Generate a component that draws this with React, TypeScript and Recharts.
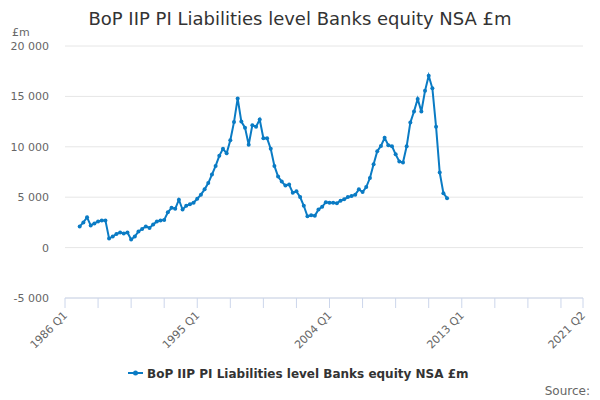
import React from 'react';
import { LineChart, Line, XAxis, YAxis, CartesianGrid } from 'recharts';

const TITLE = 'BoP IIP PI Liabilities level Banks equity NSA £m';
const SERIES_NAME = 'BoP IIP PI Liabilities level Banks equity NSA £m';
const UNIT = '£m';
const SOURCE = 'Source:';
const COLOR = '#0a7bc4';
const FONT = '"DejaVu Sans", Verdana, sans-serif';

// Category axis: 1986 Q1 .. 2021 Q2
const FIRST_YEAR = 1986;
const LAST_LABEL = '2021 Q2';
const quarters: string[] = [];
for (let y = FIRST_YEAR; quarters[quarters.length - 1] !== LAST_LABEL; y++) {
  for (let q = 1; q <= 4 && quarters[quarters.length - 1] !== LAST_LABEL; q++) {
    quarters.push(`${y} Q${q}`);
  }
}

// Series values, 1987 Q1 .. 2012 Q1
const FIRST_DATA_QUARTER = '1987 Q1';
const values: number[] = [
  2100, 2500, 3000, 2200, 2400, 2600, 2700, 2700, 900, 1100,
  1350, 1500, 1400, 1500, 800, 1100, 1600, 1850, 2100, 1950,
  2300, 2600, 2700, 2750, 3500, 3950, 3850, 4750, 3780, 4150,
  4300, 4450, 4850, 5250, 5780, 6400, 7250, 8100, 9100, 9800,
  9350, 10650, 12450, 14800, 12500, 11900, 10200, 12150, 12000, 12700,
  10850, 10850, 9800, 8100, 7050, 6550, 6150, 6250, 5450, 5580,
  5020, 4150, 3100, 3200, 3150, 3780, 4050, 4500, 4450, 4450,
  4400, 4650, 4800, 5010, 5110, 5250, 5780, 5510, 6010, 6900,
  8270, 9560, 10090, 10890, 10160, 10060, 9250, 8550, 8450, 10050,
  12400, 13500, 14750, 13500, 15550, 17050, 15800, 12000, 7450, 5400,
  4900,
];

const tickQuarters = [
  '1986 Q1', '1988 Q2', '1990 Q3', '1992 Q4', '1995 Q1', '1997 Q2', '1999 Q3',
  '2001 Q4', '2004 Q1', '2006 Q2', '2008 Q3', '2010 Q4', '2013 Q1', '2015 Q2',
  '2017 Q3', '2019 Q4', '2021 Q2',
];
const labelledQuarters = ['1986 Q1', '1995 Q1', '2004 Q1', '2013 Q1', '2021 Q2'];

const yTicks = [-5000, 0, 5000, 10000, 15000, 20000];

const startIdx = quarters.indexOf(FIRST_DATA_QUARTER);
const data = quarters.map((q, i) => {
  const k = i - startIdx;
  return { q, v: k >= 0 && k < values.length ? values[k] : null };
});

const fmt = (v: number) => {
  const s = Math.abs(v).toString().replace(/\B(?=(\d{3})+(?!\d))/g, ' ');
  return (v < 0 ? '-' : '') + s;
};

const XTick = (props: any) => {
  const { x, y, payload } = props;
  if (!labelledQuarters.includes(payload.value)) return null;
  const tx = x + 3;
  const ty = y + 6;
  return (
    <text
      x={tx}
      y={ty}
      transform={`rotate(-45 ${tx} ${ty})`}
      textAnchor="end"
      fontSize={11}
      fill="#666666"
      fontFamily={FONT}
    >
      {payload.value}
    </text>
  );
};

export default function App() {
  return (
    <div
      style={{
        position: 'absolute',
        left: 0,
        top: 0,
        width: 600,
        height: 400,
        background: '#ffffff',
        fontFamily: FONT,
      }}
    >
      <LineChart
        width={600}
        height={400}
        data={data}
        margin={{ top: 46, right: 17, bottom: 42, left: 0 }}
      >
        <CartesianGrid horizontal vertical={false} stroke="#e6e6e6" />
        <XAxis
          dataKey="q"
          type="category"
          ticks={tickQuarters}
          interval={0}
          height={60}
          tickSize={10}
          axisLine={{ stroke: '#ccd6eb' }}
          tickLine={{ stroke: '#ccd6eb' }}
          tick={<XTick />}
        />
        <YAxis
          width={65}
          domain={[-5000, 20000]}
          ticks={yTicks}
          tickFormatter={fmt}
          axisLine={false}
          tickLine={false}
          tickSize={0}
          tickMargin={16}
          tick={{ fontSize: 11, fill: '#666666', fontFamily: FONT }}
          interval={0}
        />
        <Line
          type="linear"
          dataKey="v"
          stroke={COLOR}
          strokeWidth={2}
          dot={{ r: 2, fill: COLOR, stroke: COLOR, strokeWidth: 0 }}
          activeDot={false}
          isAnimationActive={false}
        />
      </LineChart>
      <svg
        width={600}
        height={400}
        style={{ position: 'absolute', left: 0, top: 0, pointerEvents: 'none' }}
      >
        <text x={300} y={25} textAnchor="middle" fontSize={18} fill="#333333" fontFamily={FONT}>
          {TITLE}
        </text>
        <text x={12} y={36} fontSize={11} fill="#666666" fontFamily={FONT}>
          {UNIT}
        </text>
        <line x1={128} y1={373} x2={143} y2={373} stroke={COLOR} strokeWidth={2} />
        <circle cx={135.5} cy={373} r={2.5} fill={COLOR} />
        <text x={147} y={377.5} fontSize={12} fontWeight="bold" fill="#333333" fontFamily={FONT}>
          {SERIES_NAME}
        </text>
        <text x={590} y={395} textAnchor="end" fontSize={12} fill="#666666" fontFamily={FONT}>
          {SOURCE}
        </text>
      </svg>
    </div>
  );
}
